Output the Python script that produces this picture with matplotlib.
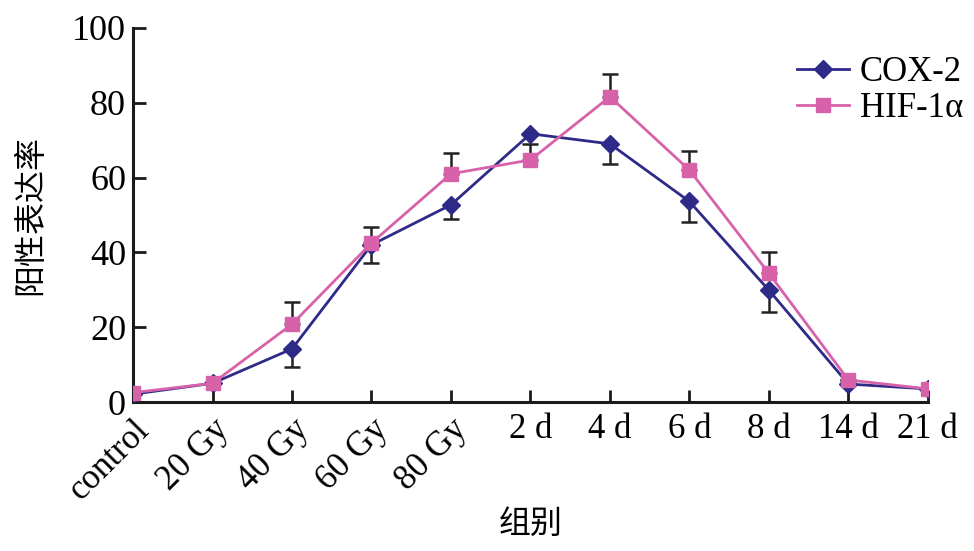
import matplotlib
matplotlib.use('Agg')
import matplotlib.pyplot as plt
import numpy as np

groups = ['control', '20 Gy', '40 Gy', '60 Gy', '80 Gy', '2 d', '4 d', '6 d', '8 d', '14 d', '21 d']
cox2 = [2.1, 5.0, 14.2, 42.0, 52.7, 71.7, 69.0, 53.6, 29.9, 4.8, 3.5]
cox2_err = [0, 0, 4.9, 4.8, 3.7, 0, 5.4, 5.6, 5.9, 0, 0]
hif1a = [2.5, 5.0, 20.8, 42.5, 61.0, 64.7, 81.6, 62.0, 34.4, 5.9, 3.5]
hif1a_err = [0, 0, 5.8, 4.4, 5.6, 4.3, 6.0, 5.1, 5.6, 0, 0]

cox_color = '#2e2b88'
hif_color = '#d862aa'

serif = 'Liberation Serif'
cjk = 'Noto Sans CJK SC'

fig = plt.figure(figsize=(9.74, 5.51), dpi=100)
ax = fig.add_axes([0.1366, 0.2704, 0.816, 0.679])

x = np.arange(len(groups))
zeros = np.zeros(len(groups))

# error bars: COX-2 downward, HIF-1a upward
ax.errorbar(x, cox2, yerr=[cox2_err, zeros], fmt='none', ecolor='#222222',
            elinewidth=1.8, capsize=6, capthick=1.8, zorder=2)
ax.errorbar(x, hif1a, yerr=[zeros, hif1a_err], fmt='none', ecolor='#222222',
            elinewidth=1.8, capsize=6, capthick=1.8, zorder=2)

ax.plot(x, cox2, color=cox_color, marker='D', markersize=9, lw=2, label='COX-2', zorder=3)
ax.plot(x, hif1a, color=hif_color, marker='s', markersize=9.5, lw=2, label='HIF-1α', zorder=4)

ax.set_xlim(0, len(groups) - 1)
ax.set_ylim(0, 100)
ax.set_yticks([0, 20, 40, 60, 80, 100])
ax.set_xticks(x)

for s in ['top', 'right']:
    ax.spines[s].set_visible(False)
for s in ['left', 'bottom']:
    ax.spines[s].set_linewidth(2.2)
    ax.spines[s].set_color('#1a1a1a')

ax.tick_params(axis='both', direction='in', length=9, width=2, color='#1a1a1a')
ax.tick_params(axis='y', labelsize=26, pad=5)
for lab in ax.get_yticklabels():
    lab.set_fontfamily(serif)

ax.set_xticklabels(groups)
for i, lab in enumerate(ax.get_xticklabels()):
    lab.set_fontfamily(serif)
    lab.set_fontsize(25)
    if i < 5:
        lab.set_rotation(45)
        lab.set_ha('right')
        lab.set_va('top')
        lab.set_rotation_mode('anchor')
ax.tick_params(axis='x', pad=8)

# axis titles
fig.text(0.031, 0.61, '阳性表达率', family=[cjk, 'DejaVu Sans'], fontsize=23,
         rotation=90, ha='center', va='center')
fig.text(0.545, 0.05, '组别', family=[cjk, 'DejaVu Sans'], fontsize=23,
         ha='center', va='center')

leg = ax.legend(loc='upper right', bbox_to_anchor=(1.003, 0.924), bbox_transform=fig.transFigure,
                frameon=False, prop={'family': serif, 'size': 25}, handlelength=1.5,
                handletextpad=0.3, labelspacing=0.1, borderaxespad=0)

fig.savefig('out.png', dpi=100)
